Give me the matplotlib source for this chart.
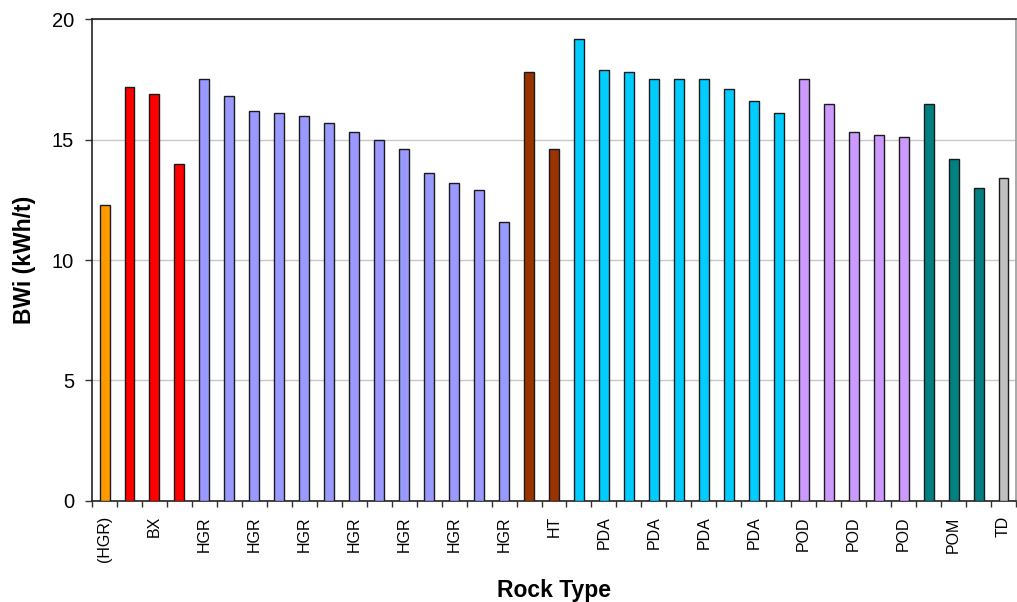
import matplotlib
matplotlib.use("Agg")
import matplotlib.pyplot as plt
import numpy as np

plt.rcParams['font.family'] = ['Liberation Sans', 'DejaVu Sans']

# Data
rock_types = (["(HGR)"] + ["BX"] * 3 + ["HGR"] * 13 + ["HT"] * 2 + ["PDA"] * 9 +
              ["POD"] * 5 + ["POM"] * 3 + ["TD"])
bwi = [12.3,
       17.2, 16.9, 14.0,
       17.5, 16.8, 16.2, 16.1, 16.0, 15.7, 15.3, 15.0, 14.6, 13.6, 13.2, 12.9, 11.6,
       17.8, 14.6,
       19.2, 17.9, 17.8, 17.5, 17.5, 17.5, 17.1, 16.6, 16.1,
       17.5, 16.5, 15.3, 15.2, 15.1,
       16.5, 14.2, 13.0,
       13.4]
type_colors = {"(HGR)": "#FF9900", "BX": "#FF0000", "HGR": "#9999FF", "HT": "#993300",
               "PDA": "#00CCFF", "POD": "#CC99FF", "POM": "#008080", "TD": "#C0C0C0"}
# labels shown on every second category
tick_labels = [t if i % 2 == 0 else "" for i, t in enumerate(rock_types)]

fig = plt.figure(figsize=(10.17, 6.02), dpi=100)
ax = fig.add_axes([0.0905, 0.168, 0.9085, 0.8])

x = np.arange(len(bwi))
colors = [type_colors[t] for t in rock_types]
ax.bar(x, bwi, width=0.4, color=colors, edgecolor="#1a1a1a", linewidth=1.0, zorder=3)

ax.set_xlim(-0.5, len(bwi) - 0.5)
ax.set_ylim(0, 20)
ax.set_yticks([0, 5, 10, 15, 20])
ax.yaxis.grid(True, color="#C8C8C8", linewidth=1.0, zorder=0)
ax.set_axisbelow(True)

# ticks between categories
ax.set_xticks(np.arange(len(bwi) + 1) - 0.5)
ax.set_xticklabels([])
ax.tick_params(axis="x", which="major", length=4, width=1, direction="out", color="#333333")
lab_idx = [i for i, t in enumerate(tick_labels) if t]
ax.set_xticks(lab_idx, minor=True)
ax.set_xticklabels([tick_labels[i] for i in lab_idx], minor=True, rotation=90, fontsize=11.5)
ax.tick_params(axis="x", which="minor", length=0, pad=11)
ax.tick_params(axis="y", length=5, width=1, direction="out", labelsize=14.5, pad=8, color="#333333")

for s in ["left", "bottom", "top"]:
    ax.spines[s].set_color("#222222")
    ax.spines[s].set_linewidth(1.2)
ax.spines["right"].set_color("#999999")
ax.spines["right"].set_linewidth(1.2)

ax.set_ylabel("BWi (kWh/t)", fontsize=16.5, fontweight="bold", labelpad=11)
ax.set_xlabel("Rock Type", fontsize=16.5, fontweight="bold", labelpad=12)

fig.savefig("out.png", dpi=100)
